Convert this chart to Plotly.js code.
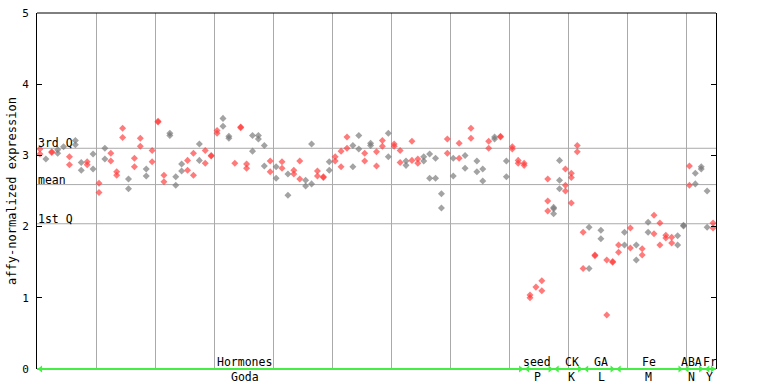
<!DOCTYPE html>
<html>
<head>
<meta charset="utf-8">
<script src="https://cdn.plot.ly/plotly-3.0.1.min.js"></script>
<style>html,body{margin:0;padding:0;background:#fff;}#chart{width:768px;height:384px;}</style>
</head>
<body>
<div id="chart"></div>
<script>
// ---- data ----
// replicate values per sample (sample index 0..114)
const rep1 = [3.09,2.95,3.05,3.08,3.12,2.98,3.21,2.90,2.91,3.02,
              2.61,3.10,3.03,2.77,3.38,2.67,2.96,3.24,2.81,3.07,
              3.48,2.72,3.31,2.70,2.88,2.93,3.03,3.16,3.07,3.00,
              3.35,3.52,3.27,2.89,3.40,2.88,3.28,3.28,3.14,2.92,
              2.84,2.91,2.74,2.79,2.92,2.65,3.16,2.78,2.70,2.91,
              2.98,3.06,3.26,3.14,3.28,3.03,3.17,3.05,3.21,3.31,
              3.16,3.07,2.92,3.20,2.95,2.98,3.02,2.96,2.46,3.23,
              2.96,3.17,3.00,3.38,2.92,2.81,3.20,3.26,3.27,2.92,
              3.12,2.93,2.89,1.04,1.15,1.24,2.67,2.27,2.93,2.81,
              2.75,3.14,1.92,1.99,1.60,1.95,1.53,1.51,1.74,1.92,
              1.98,1.74,1.69,2.06,2.16,2.05,1.88,1.85,1.87,2.02,
              2.85,2.75,2.84,2.50,2.05];
const rep2 = [3.02,null,3.04,3.03,null,2.87,3.15,2.79,2.87,2.81,
              2.48,2.95,2.92,2.72,3.25,2.53,2.84,3.13,2.71,2.91,
              3.47,2.63,3.28,2.58,2.78,2.79,2.72,2.93,2.89,2.99,
              3.31,3.41,3.24,null,3.39,2.82,3.06,3.23,2.85,2.77,
              2.68,2.82,2.44,2.74,2.67,2.57,2.60,2.71,2.69,2.79,
              2.92,2.84,3.10,2.84,3.09,2.92,3.14,2.85,3.13,2.98,
              3.13,2.90,2.86,2.93,2.89,2.92,2.68,2.68,2.26,3.03,
              2.71,2.96,2.82,3.24,2.77,2.64,3.10,3.23,3.26,2.70,
              3.09,2.89,2.86,1.00,null,1.10,2.36,2.25,2.65,2.58,
              2.69,3.05,1.41,1.41,1.59,1.83,0.76,1.50,1.64,1.74,
              1.70,1.53,1.60,1.92,1.90,1.74,1.84,1.77,1.74,2.01,
              2.58,2.60,2.81,1.99,1.98];
// third replicate (only some samples)
const rep3Index = [86,87,88,89,90];
const rep3 = [2.22,2.18,2.53,2.50,2.33];
// sample type: t = treatment (red), c = control (grey), 10 samples per chunk
const sampleType = ("tctcctcctc" + "tctttcttct" + "ttcccttctt" + "tcctttccct" + "ctcttccttc" +
                    "tttcctcttc" + "ttcttcccct" + "ctctcctctc" + "tttttttcct" + "tttctctttc" +
                    "tctcttttcc" + "tccct").split("");
// statistics lines
const statNames = ["3rd Q","mean","1st Q"];
const statValues = [3.10, 2.59, 2.04];
// experiment groups along the x axis
const groupNames  = ["Hormones","seed","CK","GA","Fe","ABA","Fr"];
const groupCodes  = ["Goda","P","K","L","M","N","Y"];
const groupStart  = [0, 82.5, 87.5, 92.5, 98, 109.5, 113];
const groupEnd    = [82.5, 87.5, 92.5, 98, 109.5, 113, 115];
const groupLabelX = [35.2, 84.7, 90.6, 95.6, 103.6, 110.9, 113.9];
const yTicks = [0,1,2,3,4,5];
const xGrid = [10,20,30,40,50,60,70,80,90,100,110];

// ---- build traces ----
const RED = 'rgba(255,60,60,0.68)';
const GREY = 'rgba(120,120,120,0.68)';
const pts = {t:{x:[],y:[]}, c:{x:[],y:[]}};
for (let i = 0; i < rep1.length; i++) {
  const k = sampleType[i] === 'c' ? 'c' : 't';
  [rep1[i], rep2[i]].forEach(v => { if (v !== null) { pts[k].x.push(i + 0.5); pts[k].y.push(v); } });
}
rep3Index.forEach((i, j) => {
  const k = sampleType[i] === 'c' ? 'c' : 't';
  pts[k].x.push(i + 0.5); pts[k].y.push(rep3[j]);
});
const mono = 'DejaVu Sans Mono, monospace';
const traces = [
  {type:'scatter', mode:'markers', x:pts.c.x, y:pts.c.y, hoverinfo:'skip',
   marker:{symbol:'diamond', size:5.4, color:GREY, line:{width:0}}, cliponaxis:false},
  {type:'scatter', mode:'markers', x:pts.t.x, y:pts.t.y, hoverinfo:'skip',
   marker:{symbol:'diamond', size:5.4, color:RED, line:{width:0}}, cliponaxis:false}
];
// group arrow heads on the green baseline
const ax = [], ay = [], asym = [];
groupStart.forEach((s, g) => {
  ax.push(s + 0.6); ay.push(0); asym.push('triangle-left');
  ax.push(groupEnd[g] - 0.6); ay.push(0); asym.push('triangle-right');
});
traces.push({type:'scatter', mode:'markers', x:ax, y:ay, hoverinfo:'skip', cliponaxis:false,
  marker:{symbol:asym, size:6, color:'#44ee44', line:{width:0}}});

const shapes = [];
statValues.forEach(v => shapes.push({type:'line', xref:'paper', x0:0, x1:1, yref:'y', y0:v, y1:v,
  line:{color:'#aaaaaa', width:1}, layer:'below'}));
shapes.push({type:'line', xref:'paper', x0:0, x1:1, yref:'paper', y0:1, y1:1, line:{color:'#000', width:1}});
shapes.push({type:'line', xref:'paper', x0:0, x1:1, yref:'paper', y0:0, y1:0, line:{color:'#44ee44', width:2}});

const annotations = [];
statNames.forEach((n, k) => annotations.push({text:n, xref:'paper', x:0, xanchor:'left', yref:'y', y:statValues[k],
  yanchor:'bottom', showarrow:false, font:{family:mono, size:11.5, color:'#000'}, borderpad:0, yshift:-3}));
groupNames.forEach((n, g) => {
  annotations.push({text:n, xref:'x', x:groupLabelX[g], xanchor:'center', yref:'paper', y:0.0, yanchor:'bottom',
    showarrow:false, font:{family:mono, size:11.5, color:'#000'}, borderpad:0, yshift:-1});
  annotations.push({text:groupCodes[g], xref:'x', x:groupLabelX[g], xanchor:'center', yref:'paper', y:0.0, yanchor:'top',
    showarrow:false, font:{family:mono, size:11.5, color:'#000'}, borderpad:0, yshift:0});
});
annotations.push({text:'affy-normalized expression', xref:'paper', x:-0.037, xanchor:'center', yref:'paper', y:0.50,
  yanchor:'middle', textangle:-90, showarrow:false, font:{family:mono, size:12, color:'#000'}});

const layout = {
  width:768, height:384, autosize:false,
  margin:{l:37, r:52, t:13, b:15, pad:0},
  paper_bgcolor:'#fff', plot_bgcolor:'#fff', showlegend:false,
  xaxis:{range:[0,115], tickvals:xGrid, showticklabels:false, ticks:'', showgrid:true,
    gridcolor:'#aaaaaa', gridwidth:1, zeroline:false, showline:false, fixedrange:true},
  yaxis:{range:[0,5], tickvals:yTicks, ticktext:yTicks.map(String), ticks:'inside', ticklen:5, tickcolor:'#000',
    showline:true, linecolor:'#000', linewidth:1, mirror:'ticks', showgrid:false, zeroline:false,
    tickfont:{family:mono, size:11, color:'#000'}, ticklabelstandoff:5, fixedrange:true},
  shapes:shapes, annotations:annotations
};
Plotly.newPlot('chart', traces, layout, {staticPlot:true, displayModeBar:false});
</script>
</body>
</html>
